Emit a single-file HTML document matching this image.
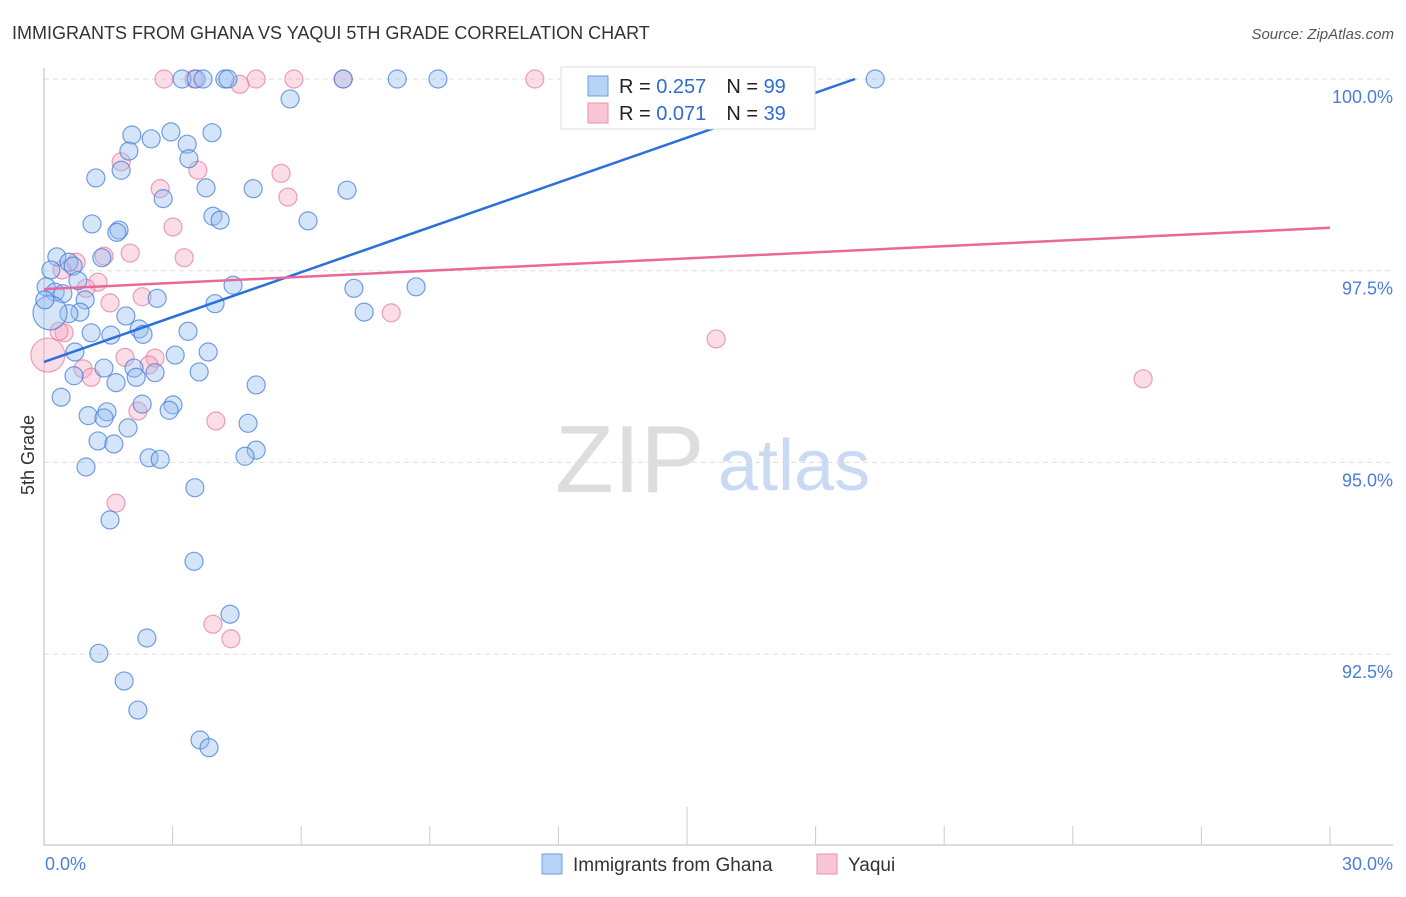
<!DOCTYPE html>
<html><head><meta charset="utf-8"><style>
body{margin:0;background:#fff;font-family:"Liberation Sans",sans-serif;}
svg text{font-family:"Liberation Sans",sans-serif;}
</style></head><body>
<svg id="chart" width="1406" height="892" xmlns="http://www.w3.org/2000/svg">
<text x="12" y="39" font-size="18" fill="#333">IMMIGRANTS FROM GHANA VS YAQUI 5TH GRADE CORRELATION CHART</text>
<text x="1394" y="39" font-size="15" font-style="italic" fill="#555" text-anchor="end">Source: ZipAtlas.com</text>
<text transform="translate(34,455) rotate(-90)" font-size="18" fill="#333" text-anchor="middle">5th Grade</text>
<g>
<text x="555" y="492" font-size="96" font-family="Liberation Serif" fill="#ddd">ZIP</text>
<text x="718" y="490" font-size="72" fill="#c9daf2">atlas</text>
</g>
<g id="grid"></g><g id="axes"></g><g id="pts"></g><g id="lines"></g>
<g>
<rect x="561" y="67" width="254" height="62" fill="#fff" stroke="#ddd"/>
<rect x="588" y="76" width="20" height="20" fill="#b7d3f5" stroke="#6d9fe0"/>
<rect x="588" y="103" width="20" height="20" fill="#f9c4d4" stroke="#ec8fab"/>
<text x="619" y="93" font-size="20" fill="#222">R = <tspan fill="#2f6bd4">0.257</tspan><tspan dx="20">N = </tspan><tspan fill="#2f6bd4">99</tspan></text>
<text x="619" y="120" font-size="20" fill="#222">R = <tspan fill="#2f6bd4">0.071</tspan><tspan dx="20">N = </tspan><tspan fill="#2f6bd4">39</tspan></text>
</g>
<g>
<rect x="542" y="854" width="20" height="20" fill="#b7d3f5" stroke="#6d9fe0"/>
<text x="573" y="871" font-size="19" fill="#333">Immigrants from Ghana</text>
<rect x="817" y="854" width="20" height="20" fill="#f9c4d4" stroke="#ec8fab"/>
<text x="848" y="871" font-size="19" fill="#333">Yaqui</text>
</g>
</svg>
<script>
const yTicks=[100,97.5,95,92.5];
const yTickLabels=["100.0%","97.5%","95.0%","92.5%"];
const xTickLabels=["0.0%","30.0%"];
const blueX=[3.22,3.55,3.71,4.22,4.29,6.98,8.24,9.19,19.39,5.74,2.05,2.96,3.92,2.50,1.98,3.34,3.38,1.80,1.21,3.78,4.88,7.07,2.78,3.94,4.11,6.16,1.12,1.75,1.70,0.30,0.58,0.68,1.35,0.16,0.79,0.05,0.26,0.44,4.41,7.23,8.68,2.64,0.96,3.99,0.84,0.58,1.91,7.47,2.22,2.31,1.10,1.56,3.36,0.72,3.06,3.83,1.40,2.10,2.59,2.15,0.70,3.62,1.68,4.95,0.40,2.29,3.01,1.03,1.47,1.40,4.76,2.92,1.96,1.26,1.63,4.95,4.69,2.45,2.71,0.98,3.52,1.54,3.50,4.34,2.40,1.28,1.87,2.19,3.64,3.85,0.14,0.02];
const blueY=[100,100,100,100,100,100,100,100,100,99.74,99.27,99.31,99.30,99.22,99.06,99.15,98.96,98.81,98.71,98.58,98.57,98.55,98.44,98.21,98.16,98.15,98.11,98.03,98.00,97.68,97.61,97.56,97.67,97.51,97.37,97.29,97.22,97.20,97.31,97.27,97.29,97.14,97.12,97.07,96.96,96.94,96.91,96.96,96.74,96.67,96.69,96.66,96.71,96.44,96.40,96.44,96.23,96.23,96.17,96.11,96.13,96.18,96.04,96.01,95.85,95.76,95.75,95.61,95.66,95.58,95.51,95.68,95.45,95.28,95.24,95.16,95.08,95.06,95.04,94.94,94.67,94.25,93.71,93.02,92.71,92.51,92.15,91.77,91.38,91.28,96.95,97.12];
const pinkX=[2.80,3.50,4.57,4.95,5.83,6.98,11.45,1.80,3.59,5.53,2.71,5.69,3.01,2.01,3.27,1.40,0.75,1.26,0.98,2.29,1.54,8.10,0.47,0.35,15.68,1.89,2.59,25.64,0.91,1.10,2.45,2.19,4.01,1.68,3.94,4.36,0.09,0.42];
const pinkY=[100,100,99.93,100,100,100,100,98.92,98.81,98.77,98.57,98.46,98.07,97.73,97.67,97.69,97.61,97.35,97.27,97.16,97.08,96.95,96.69,96.71,96.61,96.37,96.36,96.09,96.22,96.11,96.27,95.67,95.54,94.47,92.89,92.70,96.40,97.51];
const blueTrend=[[0,96.31],[18.92,100]];
const pinkTrend=[[0,97.26],[30,98.06]];
const X=v=>44+v/30*1286;
const Y=v=>79+(100-v)/2.5*191.7;
const NS="http://www.w3.org/2000/svg";
function mk(p,t,a){const e=document.createElementNS(NS,t);for(const k in a)e.setAttribute(k,a[k]);p.appendChild(e);return e;}
const grid=document.getElementById('grid'),axes=document.getElementById('axes'),pts=document.getElementById('pts'),lines=document.getElementById('lines');
yTicks.forEach((t,i)=>{
 const l=mk(grid,'line',{x1:44,x2:1393,y1:Y(t),y2:Y(t),stroke:'#ddd','stroke-dasharray':'5,4'});
 
 
 const tx=mk(grid,'text',{x:1393,y:Y(t)+24,'font-size':18,fill:'#4a7fd8','text-anchor':'end'});
 tx.textContent=yTickLabels[i];
 
 
});
const va=mk(axes,'line',{x1:44,x2:44,y1:68,y2:845,stroke:'#bbb'});


const ha=mk(axes,'line',{x1:44,x2:1393,y1:845,y2:845,stroke:'#bbb'});


for(let i=1;i<=10;i++){
 const x=X(i*3);
 const tk=mk(axes,'line',{x1:x,x2:x,y1:i==5?807:826,y2:845,stroke:'#ccc'});
 
 
}
const l0=mk(axes,'text',{x:45,y:870,'font-size':18,fill:'#4a7fd8'});l0.textContent=xTickLabels[0];


const l1=mk(axes,'text',{x:1393,y:870,'font-size':18,fill:'#4a7fd8','text-anchor':'end'});l1.textContent=xTickLabels[1];


pinkX.forEach((x,i)=>{
 const c=mk(pts,'circle',{cx:X(x),cy:Y(pinkY[i]),r:i==36?17:9,fill:'rgba(246,170,195,0.4)',stroke:'rgba(232,120,155,0.7)','stroke-width':1.2});
 
 
});
blueX.forEach((x,i)=>{
 const c=mk(pts,'circle',{cx:X(x),cy:Y(blueY[i]),r:i==90?17:9,fill:'rgba(150,190,240,0.4)',stroke:'rgba(60,120,215,0.7)','stroke-width':1.2});
 
 
});
const bt=mk(lines,'line',{x1:X(blueTrend[0][0]),y1:Y(blueTrend[0][1]),x2:X(blueTrend[1][0]),y2:Y(blueTrend[1][1]),stroke:'#2a6fdb','stroke-width':2.5});


const pt=mk(lines,'line',{x1:X(pinkTrend[0][0]),y1:Y(pinkTrend[0][1]),x2:X(pinkTrend[1][0]),y2:Y(pinkTrend[1][1]),stroke:'#e8689a','stroke-width':2.5});


</script>
</body></html>
